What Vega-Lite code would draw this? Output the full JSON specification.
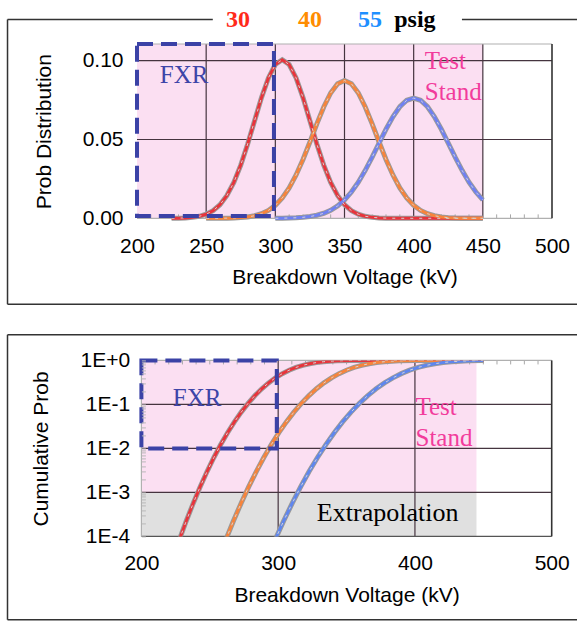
{
"$schema": "https://vega.github.io/schema/vega-lite/v6.json",
"padding": {"left": 6, "top": 8, "right": 0, "bottom": 0},
"background": "white",
"config": {"view": {"stroke": null}, "axis": {"grid": false, "domain": false, "ticks": false, "labelFont": "Liberation Sans", "titleFont": "Liberation Sans", "labelFontSize": 21, "titleFontSize": 21, "titleFontWeight": "normal", "labelColor": "#000", "titleColor": "#000", "labelFlush": false}},
"spacing": 141.4,
"bounds": "flush",
"datasets": {
"minorTop": [{"v":210,"lo":0,"hi":0.0025},{"v":220,"lo":0,"hi":0.0025},{"v":230,"lo":0,"hi":0.0025},{"v":240,"lo":0,"hi":0.0025},{"v":260,"lo":0,"hi":0.0025},{"v":270,"lo":0,"hi":0.0025},{"v":280,"lo":0,"hi":0.0025},{"v":290,"lo":0,"hi":0.0025},{"v":310,"lo":0,"hi":0.0025},{"v":320,"lo":0,"hi":0.0025},{"v":330,"lo":0,"hi":0.0025},{"v":340,"lo":0,"hi":0.0025},{"v":360,"lo":0,"hi":0.0025},{"v":370,"lo":0,"hi":0.0025},{"v":380,"lo":0,"hi":0.0025},{"v":390,"lo":0,"hi":0.0025},{"v":410,"lo":0,"hi":0.0025},{"v":420,"lo":0,"hi":0.0025},{"v":430,"lo":0,"hi":0.0025},{"v":440,"lo":0,"hi":0.0025},{"v":460,"lo":0,"hi":0.0025},{"v":470,"lo":0,"hi":0.0025},{"v":480,"lo":0,"hi":0.0025},{"v":490,"lo":0,"hi":0.0025}],
"minorBot": [{"v":210,"lo":0.81,"hi":1},{"v":220,"lo":0.81,"hi":1},{"v":230,"lo":0.81,"hi":1},{"v":240,"lo":0.81,"hi":1},{"v":250,"lo":0.81,"hi":1},{"v":260,"lo":0.81,"hi":1},{"v":270,"lo":0.81,"hi":1},{"v":280,"lo":0.81,"hi":1},{"v":290,"lo":0.81,"hi":1},{"v":310,"lo":0.81,"hi":1},{"v":320,"lo":0.81,"hi":1},{"v":330,"lo":0.81,"hi":1},{"v":340,"lo":0.81,"hi":1},{"v":350,"lo":0.81,"hi":1},{"v":360,"lo":0.81,"hi":1},{"v":370,"lo":0.81,"hi":1},{"v":380,"lo":0.81,"hi":1},{"v":390,"lo":0.81,"hi":1},{"v":410,"lo":0.81,"hi":1},{"v":420,"lo":0.81,"hi":1},{"v":430,"lo":0.81,"hi":1},{"v":440,"lo":0.81,"hi":1},{"v":450,"lo":0.81,"hi":1},{"v":460,"lo":0.81,"hi":1},{"v":470,"lo":0.81,"hi":1},{"v":480,"lo":0.81,"hi":1},{"v":490,"lo":0.81,"hi":1}],
"pdf": [
{"series":"30","kV":225,"p":0.0000428},{"series":"30","kV":230,"p":0.000109},{"series":"30","kV":235,"p":0.000264},{"series":"30","kV":240,"p":0.000598},{"series":"30","kV":245,"p":0.001275},{"series":"30","kV":250,"p":0.00256},{"series":"30","kV":255,"p":0.00485},{"series":"30","kV":260,"p":0.00862},{"series":"30","kV":265,"p":0.01445},{"series":"30","kV":270,"p":0.02277},{"series":"30","kV":275,"p":0.03376},{"series":"30","kV":280,"p":0.04713},{"series":"30","kV":285,"p":0.06192},{"series":"30","kV":290,"p":0.07657},{"series":"30","kV":295,"p":0.0891},{"series":"30","kV":300,"p":0.09759},{"series":"30","kV":305,"p":0.1006},{"series":"30","kV":310,"p":0.09759},{"series":"30","kV":315,"p":0.0891},{"series":"30","kV":320,"p":0.07657},{"series":"30","kV":325,"p":0.06192},{"series":"30","kV":330,"p":0.04713},{"series":"30","kV":335,"p":0.03376},{"series":"30","kV":340,"p":0.02277},{"series":"30","kV":345,"p":0.01445},{"series":"30","kV":350,"p":0.00862},{"series":"30","kV":355,"p":0.00485},{"series":"30","kV":360,"p":0.00256},{"series":"30","kV":365,"p":0.001275},{"series":"30","kV":370,"p":0.000598},{"series":"30","kV":375,"p":0.000264},{"series":"30","kV":380,"p":0.000109},{"series":"30","kV":385,"p":0.0000428},{"series":"30","kV":390,"p":0.0000157},{"series":"30","kV":400,"p":0.000001},{"series":"30","kV":425,"p":0},{"series":"30","kV":450,"p":0},
{"series":"40","kV":250,"p":0.0000068},{"series":"40","kV":260,"p":0.0000414},{"series":"40","kV":265,"p":0.0000947},{"series":"40","kV":270,"p":0.000206},{"series":"40","kV":275,"p":0.000429},{"series":"40","kV":280,"p":0.000851},{"series":"40","kV":285,"p":0.00161},{"series":"40","kV":290,"p":0.00291},{"series":"40","kV":295,"p":0.00501},{"series":"40","kV":300,"p":0.00823},{"series":"40","kV":305,"p":0.01289},{"series":"40","kV":310,"p":0.01926},{"series":"40","kV":315,"p":0.02746},{"series":"40","kV":320,"p":0.03733},{"series":"40","kV":325,"p":0.04841},{"series":"40","kV":330,"p":0.05989},{"series":"40","kV":335,"p":0.07065},{"series":"40","kV":340,"p":0.07952},{"series":"40","kV":345,"p":0.08536},{"series":"40","kV":350,"p":0.0874},{"series":"40","kV":355,"p":0.08536},{"series":"40","kV":360,"p":0.07952},{"series":"40","kV":365,"p":0.07065},{"series":"40","kV":370,"p":0.05989},{"series":"40","kV":375,"p":0.04841},{"series":"40","kV":380,"p":0.03733},{"series":"40","kV":385,"p":0.02746},{"series":"40","kV":390,"p":0.01926},{"series":"40","kV":395,"p":0.01289},{"series":"40","kV":400,"p":0.00823},{"series":"40","kV":405,"p":0.00501},{"series":"40","kV":410,"p":0.00291},{"series":"40","kV":415,"p":0.00161},{"series":"40","kV":420,"p":0.000851},{"series":"40","kV":425,"p":0.000429},{"series":"40","kV":430,"p":0.000206},{"series":"40","kV":435,"p":0.0000947},{"series":"40","kV":440,"p":0.0000414},{"series":"40","kV":450,"p":0.0000068},
{"series":"55","kV":300,"p":0.0000417},{"series":"55","kV":305,"p":0.0000867},{"series":"55","kV":310,"p":0.000174},{"series":"55","kV":315,"p":0.000336},{"series":"55","kV":320,"p":0.000623},{"series":"55","kV":325,"p":0.00112},{"series":"55","kV":330,"p":0.00192},{"series":"55","kV":335,"p":0.00319},{"series":"55","kV":340,"p":0.00511},{"series":"55","kV":345,"p":0.00787},{"series":"55","kV":350,"p":0.01167},{"series":"55","kV":355,"p":0.01667},{"series":"55","kV":360,"p":0.02294},{"series":"55","kV":365,"p":0.0304},{"series":"55","kV":370,"p":0.03881},{"series":"55","kV":375,"p":0.04771},{"series":"55","kV":380,"p":0.05649},{"series":"55","kV":385,"p":0.06444},{"series":"55","kV":390,"p":0.07078},{"series":"55","kV":395,"p":0.07488},{"series":"55","kV":400,"p":0.0763},{"series":"55","kV":405,"p":0.07488},{"series":"55","kV":410,"p":0.07078},{"series":"55","kV":415,"p":0.06444},{"series":"55","kV":420,"p":0.05649},{"series":"55","kV":425,"p":0.04771},{"series":"55","kV":430,"p":0.03881},{"series":"55","kV":435,"p":0.0304},{"series":"55","kV":440,"p":0.02294},{"series":"55","kV":445,"p":0.01667},{"series":"55","kV":450,"p":0.01167}
],
"cdf": [
{"series":"30","kV":225,"c":0.0000481},{"series":"30","kV":228,"c":0.0000884},{"series":"30","kV":233,"c":0.000233},{"series":"30","kV":238,"c":0.000577},{"series":"30","kV":243,"c":0.00135},{"series":"30","kV":248,"c":0.00298},{"series":"30","kV":253,"c":0.00621},{"series":"30","kV":258,"c":0.01222},{"series":"30","kV":263,"c":0.02275},{"series":"30","kV":268,"c":0.04006},{"series":"30","kV":273,"c":0.06681},{"series":"30","kV":278,"c":0.1056},{"series":"30","kV":283,"c":0.1587},{"series":"30","kV":288,"c":0.2266},{"series":"30","kV":293,"c":0.3085},{"series":"30","kV":298,"c":0.4013},{"series":"30","kV":303,"c":0.5},{"series":"30","kV":308,"c":0.5987},{"series":"30","kV":313,"c":0.6915},{"series":"30","kV":318,"c":0.7734},{"series":"30","kV":323,"c":0.8413},{"series":"30","kV":328,"c":0.8944},{"series":"30","kV":333,"c":0.9332},{"series":"30","kV":338,"c":0.9599},{"series":"30","kV":343,"c":0.9772},{"series":"30","kV":353,"c":0.9938},{"series":"30","kV":363,"c":0.99865},{"series":"30","kV":373,"c":0.99977},{"series":"30","kV":383,"c":0.99997},{"series":"30","kV":450,"c":1},
{"series":"40","kV":258.7,"c":0.0000481},{"series":"40","kV":262,"c":0.0000884},{"series":"40","kV":267.5,"c":0.000233},{"series":"40","kV":273,"c":0.000577},{"series":"40","kV":278.5,"c":0.00135},{"series":"40","kV":284,"c":0.00298},{"series":"40","kV":289.5,"c":0.00621},{"series":"40","kV":295,"c":0.01222},{"series":"40","kV":300.5,"c":0.02275},{"series":"40","kV":306,"c":0.04006},{"series":"40","kV":311.5,"c":0.06681},{"series":"40","kV":317,"c":0.1056},{"series":"40","kV":322.5,"c":0.1587},{"series":"40","kV":328,"c":0.2266},{"series":"40","kV":333.5,"c":0.3085},{"series":"40","kV":339,"c":0.4013},{"series":"40","kV":344.5,"c":0.5},{"series":"40","kV":350,"c":0.5987},{"series":"40","kV":355.5,"c":0.6915},{"series":"40","kV":361,"c":0.7734},{"series":"40","kV":366.5,"c":0.8413},{"series":"40","kV":372,"c":0.8944},{"series":"40","kV":377.5,"c":0.9332},{"series":"40","kV":383,"c":0.9599},{"series":"40","kV":388.5,"c":0.9772},{"series":"40","kV":399.5,"c":0.9938},{"series":"40","kV":410.5,"c":0.99865},{"series":"40","kV":421.5,"c":0.99977},{"series":"40","kV":432.5,"c":0.99997},{"series":"40","kV":450,"c":1},
{"series":"55","kV":294.45,"c":0.0000481},{"series":"55","kV":298.1,"c":0.0000884},{"series":"55","kV":304.25,"c":0.000233},{"series":"55","kV":310.4,"c":0.000577},{"series":"55","kV":316.5,"c":0.00135},{"series":"55","kV":322.6,"c":0.00298},{"series":"55","kV":328.75,"c":0.00621},{"series":"55","kV":334.9,"c":0.01222},{"series":"55","kV":341,"c":0.02275},{"series":"55","kV":347.1,"c":0.04006},{"series":"55","kV":353.25,"c":0.06681},{"series":"55","kV":359.4,"c":0.1056},{"series":"55","kV":365.5,"c":0.1587},{"series":"55","kV":371.6,"c":0.2266},{"series":"55","kV":377.75,"c":0.3085},{"series":"55","kV":383.9,"c":0.4013},{"series":"55","kV":390,"c":0.5},{"series":"55","kV":396.1,"c":0.5987},{"series":"55","kV":402.25,"c":0.6915},{"series":"55","kV":408.4,"c":0.7734},{"series":"55","kV":414.5,"c":0.8413},{"series":"55","kV":420.6,"c":0.8944},{"series":"55","kV":426.75,"c":0.9332},{"series":"55","kV":432.9,"c":0.9599},{"series":"55","kV":439,"c":0.9772},{"series":"55","kV":450,"c":0.993}
]
},
"vconcat": [
{
"width": 415, "height": 174.3,
"resolve": {"scale": {"color": "independent", "strokeWidth": "independent"}},
"layer": [
{"data": {"values": [{"x1": 200, "x2": 450, "y1": 0, "y2": 0.1106}]},
 "mark": {"type": "rect", "color": "#fbdff2"},
 "encoding": {
  "x": {"field": "x1", "type": "quantitative", "title": "Breakdown Voltage (kV)", "scale": {"domain": [200, 500], "nice": false, "zero": false}, "axis": {"values": [200, 250, 300, 350, 400, 450, 500], "labelPadding": 17, "titlePadding": 10}},
  "x2": {"field": "x2"},
  "y": {"field": "y1", "type": "quantitative", "title": "Prob Distribution", "scale": {"domain": [0, 0.1106], "nice": false, "zero": false}, "axis": {"values": [0, 0.05, 0.1], "format": ".2f", "labelPadding": 14, "titlePadding": 27.5}},
  "y2": {"field": "y2"}}},
{"data": {"values": [{"v": 250}, {"v": 300}, {"v": 350}, {"v": 400}, {"v": 450}]},
 "mark": {"type": "rule", "color": "#45343f", "strokeWidth": 1.2},
 "encoding": {"x": {"field": "v", "type": "quantitative"}}},
{"data": {"values": [{"h": 0.05}, {"h": 0.1}]},
 "mark": {"type": "rule", "color": "#45343f", "strokeWidth": 1.2},
 "encoding": {"y": {"field": "h", "type": "quantitative"}}},
{"data": {"name": "minorTop"},
 "mark": {"type": "rule", "color": "#a8a8a8", "strokeWidth": 1},
 "encoding": {"x": {"field": "v", "type": "quantitative"}, "y": {"field": "lo", "type": "quantitative"}, "y2": {"field": "hi"}}},
{"data": {"values": [{"h": 0}, {"h": 0.1106}]},
 "mark": {"type": "rule", "color": "#b0b0b0", "strokeWidth": 1.2},
 "encoding": {"y": {"field": "h", "type": "quantitative"}}},
{"data": {"values": [{"v": 500}]},
 "mark": {"type": "rule", "color": "#333333", "strokeWidth": 1.6},
 "encoding": {"x": {"field": "v", "type": "quantitative"}}},
{"data": {"name": "pdf"},
 "mark": {"type": "line", "color": "#9a9a9a", "strokeWidth": 5},
 "encoding": {"x": {"field": "kV", "type": "quantitative"}, "y": {"field": "p", "type": "quantitative"}, "detail": {"field": "series"}}},
{"data": {"name": "pdf"},
 "mark": {"type": "line"},
 "encoding": {"x": {"field": "kV", "type": "quantitative"}, "y": {"field": "p", "type": "quantitative"},
  "color": {"field": "series", "type": "nominal", "scale": {"domain": ["30", "40", "55"], "range": ["#e8343c", "#f7843c", "#6f80f2"]}, "legend": null},
  "strokeWidth": {"field": "series", "type": "nominal", "scale": {"domain": ["30", "40", "55"], "range": [3, 3, 3.8]}, "legend": null}}},
{"data": {"name": "pdf"},
 "mark": {"type": "line", "color": "#d4d4d4", "strokeWidth": 1, "strokeDash": [3, 6]},
 "encoding": {"x": {"field": "kV", "type": "quantitative"}, "y": {"field": "p", "type": "quantitative"}, "detail": {"field": "series"}}},
{"data": {"values": [{"x1": 200, "x2": 299, "y1": 0.0015, "y2": 0.1106}]},
 "mark": {"type": "rect", "fillOpacity": 0, "stroke": "#3b42a6", "strokeWidth": 4, "strokeDash": [16, 8]},
 "encoding": {"x": {"field": "x1", "type": "quantitative"}, "x2": {"field": "x2"}, "y": {"field": "y1", "type": "quantitative"}, "y2": {"field": "y2"}}},
{"data": {"values": [{"t": "FXR", "x": 216.5, "y": 0.0861}]},
 "mark": {"type": "text", "font": "Liberation Serif", "fontSize": 25, "align": "left", "baseline": "alphabetic", "color": "#3d45a8"},
 "encoding": {"x": {"field": "x", "type": "quantitative"}, "y": {"field": "y", "type": "quantitative"}, "text": {"field": "t"}}},
{"data": {"values": [{"t": "Test", "x": 408, "y": 0.0947}, {"t": "Stand", "x": 408, "y": 0.0752}]},
 "mark": {"type": "text", "font": "Liberation Serif", "fontSize": 25, "align": "left", "baseline": "alphabetic", "color": "#f23c9c"},
 "encoding": {"x": {"field": "x", "type": "quantitative"}, "y": {"field": "y", "type": "quantitative"}, "text": {"field": "t"}}},
{"data": {"values": [{"series": "30", "x": 273.1, "y": 0.1212}, {"series": "40", "x": 325, "y": 0.1212}, {"series": "55", "x": 368.4, "y": 0.1212}]},
 "mark": {"type": "text", "font": "Liberation Serif", "fontSize": 24, "fontWeight": "bold", "align": "center", "baseline": "alphabetic"},
 "encoding": {"x": {"field": "x", "type": "quantitative"}, "y": {"field": "y", "type": "quantitative"}, "text": {"field": "series"},
  "color": {"field": "series", "type": "nominal", "scale": {"domain": ["30", "40", "55"], "range": ["#ff2a1a", "#ff8c00", "#1e8fff"]}, "legend": null}}},
{"data": {"values": [{"t": "psig", "x": 400.9, "y": 0.1212}]},
 "mark": {"type": "text", "font": "Liberation Serif", "fontSize": 24, "fontWeight": "bold", "align": "center", "baseline": "alphabetic", "color": "#000000"},
 "encoding": {"x": {"field": "x", "type": "quantitative"}, "y": {"field": "y", "type": "quantitative"}, "text": {"field": "t"}}},
{"data": {"values": [
  {"x1": 106.4, "x2": 106.4, "y1": 0.1261, "y2": -0.0545},
  {"x1": 106.4, "x2": 254.8, "y1": 0.1261, "y2": 0.1261},
  {"x1": 434.9, "x2": 540, "y1": 0.1261, "y2": 0.1261},
  {"x1": 106.4, "x2": 540, "y1": -0.0545, "y2": -0.0545}]},
 "mark": {"type": "rule", "color": "#333333", "strokeWidth": 1.5},
 "encoding": {"x": {"field": "x1", "type": "quantitative"}, "x2": {"field": "x2"}, "y": {"field": "y1", "type": "quantitative"}, "y2": {"field": "y2"}}}
]
},
{
"width": 414.7, "height": 176,
"resolve": {"scale": {"color": "independent", "strokeWidth": "independent"}},
"layer": [
{"data": {"values": [{"x1": 200, "x2": 445, "y1": 0.001, "y2": 1}]},
 "mark": {"type": "rect", "color": "#fbdff2"},
 "encoding": {
  "x": {"field": "x1", "type": "quantitative", "title": "Breakdown Voltage (kV)", "scale": {"domain": [200, 500], "nice": false, "zero": false, "range": [4.4, 414.7]}, "axis": {"values": [200, 300, 400, 500], "labelPadding": 16.3, "titlePadding": 10.4}},
  "x2": {"field": "x2"},
  "y": {"field": "y1", "type": "quantitative", "title": "Cumulative Prob", "scale": {"type": "log", "domain": [0.0001, 1], "nice": false}, "axis": {"values": [0.0001, 0.0002, 0.0003, 0.0004, 0.0005, 0.0006, 0.0007, 0.0008, 0.0009, 0.001, 0.002, 0.003, 0.004, 0.005, 0.006, 0.007, 0.008, 0.009, 0.01, 0.02, 0.03, 0.04, 0.05, 0.06, 0.07, 0.08, 0.09, 0.1, 0.2, 0.3, 0.4, 0.5, 0.6, 0.7, 0.8, 0.9, 1], "format": ".0e", "labelExpr": "indexof(['1e-4','1e-3','1e-2','1e-1','1e+0'], datum.label) >= 0 ? upper(datum.label) : ''", "labelOverlap": false, "ticks": true, "tickSize": -4, "tickColor": "#b8b8b8", "tickWidth": 1, "offset": -4.4, "labelPadding": 15.7, "titlePadding": 28.5, "zindex": 1}},
  "y2": {"field": "y2"}}},
{"data": {"values": [{"x1": 200, "x2": 445, "y1": 0.0001, "y2": 0.001}]},
 "mark": {"type": "rect", "color": "#e0e0e0"},
 "encoding": {"x": {"field": "x1", "type": "quantitative"}, "x2": {"field": "x2"}, "y": {"field": "y1", "type": "quantitative"}, "y2": {"field": "y2"}}},
{"data": {"values": [{"v": 300, "lo": 0.0001, "hi": 1}, {"v": 400, "lo": 0.0001, "hi": 1}]},
 "mark": {"type": "rule", "color": "#45343f", "strokeWidth": 1.2},
 "encoding": {"x": {"field": "v", "type": "quantitative"}, "y": {"field": "lo", "type": "quantitative"}, "y2": {"field": "hi"}}},
{"data": {"values": [{"h": 0.1, "l": 200, "r": 500}, {"h": 0.01, "l": 200, "r": 500}, {"h": 0.001, "l": 200, "r": 500}]},
 "mark": {"type": "rule", "color": "#45343f", "strokeWidth": 1.2},
 "encoding": {"y": {"field": "h", "type": "quantitative"}, "x": {"field": "l", "type": "quantitative"}, "x2": {"field": "r"}}},
{"data": {"name": "minorBot"},
 "mark": {"type": "rule", "color": "#a8a8a8", "strokeWidth": 1},
 "encoding": {"x": {"field": "v", "type": "quantitative"}, "y": {"field": "lo", "type": "quantitative"}, "y2": {"field": "hi"}}},
{"data": {"values": [{"h": 1, "l": 200, "r": 500}]},
 "mark": {"type": "rule", "color": "#b0b0b0", "strokeWidth": 1.2},
 "encoding": {"y": {"field": "h", "type": "quantitative"}, "x": {"field": "l", "type": "quantitative"}, "x2": {"field": "r"}}},
{"data": {"values": [{"h": 0.0001, "l": 200, "r": 500}]},
 "mark": {"type": "rule", "color": "#555555", "strokeWidth": 1.4},
 "encoding": {"y": {"field": "h", "type": "quantitative"}, "x": {"field": "l", "type": "quantitative"}, "x2": {"field": "r"}}},
{"data": {"values": [{"v": 200, "lo": 0.0001, "hi": 1}]},
 "mark": {"type": "rule", "color": "#b0b0b0", "strokeWidth": 1.2},
 "encoding": {"x": {"field": "v", "type": "quantitative"}, "y": {"field": "lo", "type": "quantitative"}, "y2": {"field": "hi"}}},
{"data": {"values": [{"v": 500, "lo": 0.0001, "hi": 1}]},
 "mark": {"type": "rule", "color": "#333333", "strokeWidth": 1.6},
 "encoding": {"x": {"field": "v", "type": "quantitative"}, "y": {"field": "lo", "type": "quantitative"}, "y2": {"field": "hi"}}},
{"data": {"name": "cdf"},
 "mark": {"type": "line", "color": "#9a9a9a", "strokeWidth": 5, "clip": true},
 "encoding": {"x": {"field": "kV", "type": "quantitative"}, "y": {"field": "c", "type": "quantitative"}, "detail": {"field": "series"}}},
{"data": {"name": "cdf"},
 "mark": {"type": "line", "clip": true},
 "encoding": {"x": {"field": "kV", "type": "quantitative"}, "y": {"field": "c", "type": "quantitative"},
  "color": {"field": "series", "type": "nominal", "scale": {"domain": ["30", "40", "55"], "range": ["#e8343c", "#f7843c", "#5f86ee"]}, "legend": null},
  "strokeWidth": {"field": "series", "type": "nominal", "scale": {"domain": ["30", "40", "55"], "range": [3, 3, 4.6]}, "legend": null}}},
{"data": {"name": "cdf"},
 "mark": {"type": "line", "color": "#d4d4d4", "strokeWidth": 1, "strokeDash": [3, 6], "clip": true},
 "encoding": {"x": {"field": "kV", "type": "quantitative"}, "y": {"field": "c", "type": "quantitative"}, "detail": {"field": "series"}}},
{"data": {"values": [{"x1": 200, "x2": 299, "y1": 0.01, "y2": 1}]},
 "mark": {"type": "rect", "fillOpacity": 0, "stroke": "#3b42a6", "strokeWidth": 4, "strokeDash": [16, 8]},
 "encoding": {"x": {"field": "x1", "type": "quantitative"}, "x2": {"field": "x2"}, "y": {"field": "y1", "type": "quantitative"}, "y2": {"field": "y2"}}},
{"data": {"values": [{"t": "FXR", "x": 223, "y": 0.09}]},
 "mark": {"type": "text", "font": "Liberation Serif", "fontSize": 25, "align": "left", "baseline": "alphabetic", "color": "#3d45a8"},
 "encoding": {"x": {"field": "x", "type": "quantitative"}, "y": {"field": "y", "type": "quantitative"}, "text": {"field": "t"}}},
{"data": {"values": [{"t": "Test", "x": 400.4, "y": 0.0583}, {"t": "Stand", "x": 400.4, "y": 0.0111}]},
 "mark": {"type": "text", "font": "Liberation Serif", "fontSize": 25, "align": "left", "baseline": "alphabetic", "color": "#f23c9c"},
 "encoding": {"x": {"field": "x", "type": "quantitative"}, "y": {"field": "y", "type": "quantitative"}, "text": {"field": "t"}}},
{"data": {"values": [{"t": "Extrapolation", "x": 328.3, "y": 0.000219}]},
 "mark": {"type": "text", "font": "Liberation Serif", "fontSize": 26, "align": "left", "baseline": "alphabetic", "color": "#000000"},
 "encoding": {"x": {"field": "x", "type": "quantitative"}, "y": {"field": "y", "type": "quantitative"}, "text": {"field": "t"}}},
{"data": {"values": [
  {"x1": 102.1, "x2": 102.1, "y1": 3.84, "y2": 0.00000128},
  {"x1": 102.1, "x2": 533, "y1": 3.84, "y2": 3.84},
  {"x1": 102.1, "x2": 533, "y1": 0.00000128, "y2": 0.00000128}]},
 "mark": {"type": "rule", "color": "#333333", "strokeWidth": 1.5},
 "encoding": {"x": {"field": "x1", "type": "quantitative"}, "x2": {"field": "x2"}, "y": {"field": "y1", "type": "quantitative"}, "y2": {"field": "y2"}}}
]
}
]
}
